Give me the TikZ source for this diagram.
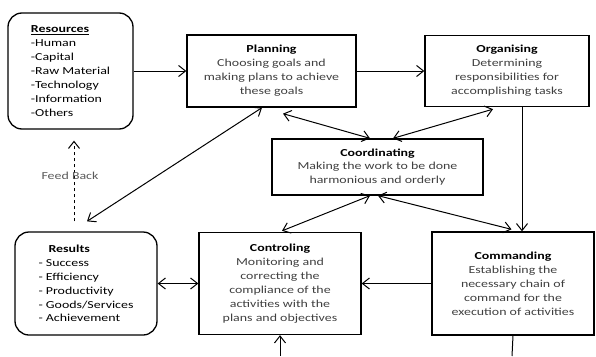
\documentclass[tikz,border=0pt]{standalone}
\usepackage{fontspec}
\setmainfont[FakeStretch=1.3]{Carlito}
\usetikzlibrary{arrows.meta}
\definecolor{descgray}{RGB}{64,64,64}
\definecolor{fbgray}{RGB}{90,90,90}
\newcommand{\ttl}[1]{\textcolor{black}{\textbf{#1}}}

\begin{document}
\begin{tikzpicture}[x=1pt,y=-1pt,
  >={Straight Barb[length=7pt,width=11pt]},
  box/.style={draw, line width=1.3pt, align=center, inner sep=0pt,
    text=descgray, font=\fontsize{10.7}{13.9}\selectfont},
  rbox/.style={box, rounded corners=14pt, text=black, align=left},
  link/.style={line width=1pt}]
  \useasboundingbox (0,0) rectangle (596,356);

  % Boxes
  \node[rbox, minimum width=125pt, minimum height=116pt] (res) at (70.5,71)
    {\underline{\textbf{Resources}}\\-Human\\-Capital\\-Raw Material\\-Technology\\-Information\\-Others};
  \node[box, minimum width=169pt, minimum height=72pt] (plan) at (271.5,71)
    {\ttl{Planning}\\Choosing goals and\\making plans to achieve\\these goals};
  \node[box, minimum width=164pt, minimum height=71pt] (org) at (507,71)
    {\ttl{Organising}\\Determining\\responsibilities for\\accomplishing tasks};
  \node[box, minimum width=211pt, minimum height=56pt] (coord) at (377.5,167)
    {\ttl{Coordinating}\\Making the work to be done\\harmonious and orderly};
  \node[rbox, minimum width=142pt, minimum height=103pt] (rslt) at (86,283.5)
    {\hspace*{10pt}\textbf{Results}\\- Success\\- Efficiency\\- Productivity\\- Goods/Services\\- Achievement};
  \node[box, minimum width=162pt, minimum height=102pt] (ctl) at (280,283.5)
    {\ttl{Controling}\\Monitoring and\\correcting the\\compliance of the\\activities with the\\plans and objectives};
  \node[box, minimum width=162pt, minimum height=103pt] (cmd) at (513,283.5)
    {\ttl{Commanding}\\Establishing the\\necessary chain of\\command for the\\execution of activities};

  % Free ends
  \coordinate (orgout) at ([xshift=15pt]org.south);
  \coordinate (cmdout) at (512,356);
  \coordinate (ctlin) at (280,356);

  % Flow
  \draw[->, link] (res.east) -- (plan.west);
  \draw[->, link] (plan.east) -- (org.west);
  \draw[->, link] (orgout) -- (orgout |- cmd.north);
  \draw[->, link] (cmd.west) -- (ctl.east);
  \draw[<->, link] (rslt.east) -- (ctl.west);
  \draw[link] (cmd.south) -- (cmdout);
  \draw[->, link] (ctlin) -- (ctl.south);

  % Coordination links
  \draw[<->, link] ([shift={(1,-10)}]rslt.north) -- ([xshift=-9.5pt]plan.south);
  \draw[<->, link] ([shift={(11.5,6)}]plan.south) -- ([xshift=-7.5pt]coord.north);
  \draw[<->, link] ([xshift=15.5pt]coord.north) -- ([shift={(-14,2)}]org.south);
  \draw[<->, link] ([xshift=-7.5pt]coord.south) -- ([shift={(2,-1)}]ctl.north);
  \draw[<->, link] ([xshift=0.5pt]coord.south) -- ([shift={(-1.5,-2)}]cmd.north);

  % Feed back
  \draw[->, link, dashed] ([shift={(-12,-10)}]rslt.north) -- ([shift={(3.5,11)}]res.south);
  \node[text=fbgray, font=\fontsize{10.7}{13.9}\selectfont] (fb) at (70,176) {Feed Back};
\end{tikzpicture}
\end{document}
